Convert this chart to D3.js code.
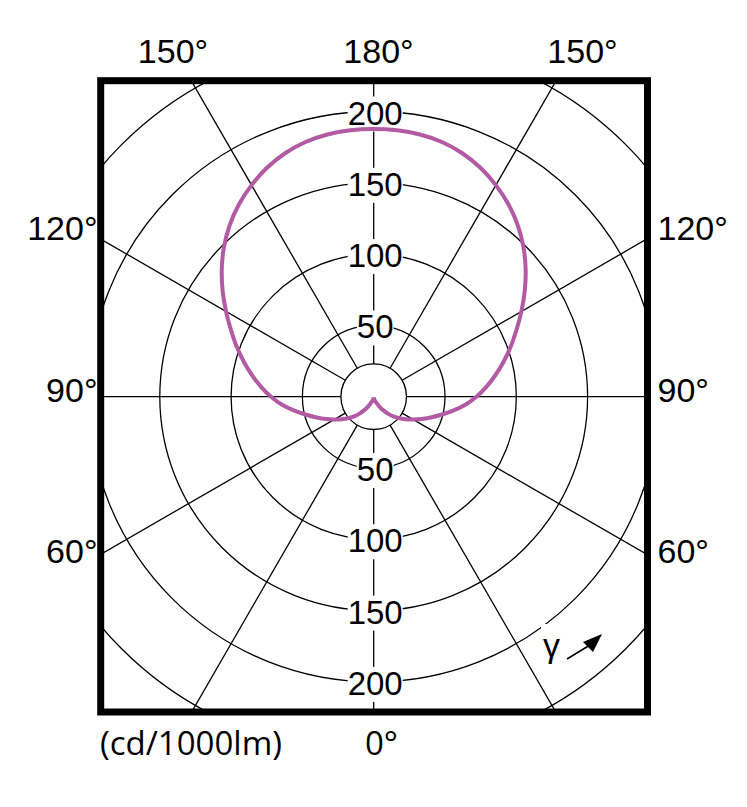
<!DOCTYPE html>
<html>
<head>
<meta charset="utf-8">
<script src="https://cdn.jsdelivr.net/npm/d3@7"></script>
<style>
  body { margin: 0; background: #fff; }
  svg { display: block; }
</style>
</head>
<body>
<div id="chart"></div>
<script>
// gamma angles (deg) and luminous intensity (cd/1000lm), one half-plane, mirrored
const gammaDeg = [0, 5, 10, 15, 20, 25, 30, 35, 40, 45, 50, 55, 60, 65, 70, 75, 80, 85, 90,
                  95, 100, 105, 110, 115, 120, 125, 130, 135, 140, 145, 150, 155, 160, 165, 170, 175, 180];
const intensity = [0.5, 0.8, 1.5, 2.5, 3.5, 5, 8, 11.5, 15.5, 19.5, 23.5, 27.5, 32, 37, 42.5, 49, 56.5, 64.5, 72,
                   79.3, 86.6, 94.2, 102.2, 110.4, 119.6, 129.3, 139.1, 148.5, 157.1, 164.7, 171.3, 177.1, 181.7, 184.9, 186.7, 187.5, 187.7];

const ringValues = [50, 100, 150, 200, 250];
const hubValue = 23;
const ringLabels = [50, 100, 150, 200];
const spokeDeg = [0, 30, 60, 90, 120, 150, 180, 210, 240, 270, 300, 330];
const topLabels = ["150°", "180°", "150°"];
const sideLabels = ["120°", "90°", "60°"];
const unitLabel = "(cd/1000lm)";
const bottomLabel = "0°";

const width = 747, height = 807;
const cx = 373.7, cy = 396.7;
const frame = { x0: 100.7, y0: 80.7, x1: 647.5, y1: 712 };

const svg = d3.select("#chart").append("svg")
    .attr("width", width)
    .attr("height", height);

svg.append("defs").append("clipPath")
    .attr("id", "inner")
    .append("rect")
    .attr("x", frame.x0).attr("y", frame.y0)
    .attr("width", frame.x1 - frame.x0).attr("height", frame.y1 - frame.y0);

const r = d3.scaleLinear().domain([0, 250]).range([0, 356.5]);
const toRad = d => d * Math.PI / 180;

const g = svg.append("g")
    .attr("clip-path", "url(#inner)")
    .append("g")
    .attr("transform", `translate(${cx},${cy})`);

// cercles
g.selectAll("circle.ring")
    .data([hubValue, ...ringValues])
    .enter().append("circle")
    .attr("class", "ring")
    .attr("r", d => r(d))
    .attr("fill", "none")
    .attr("stroke", "#000")
    .attr("stroke-width", 1.3);

// rayons
g.selectAll("line.spoke")
    .data(spokeDeg)
    .enter().append("line")
    .attr("class", "spoke")
    .attr("x1", d => r(hubValue) * Math.sin(toRad(d)))
    .attr("y1", d => -r(hubValue) * Math.cos(toRad(d)))
    .attr("x2", d => r(400) * Math.sin(toRad(d)))
    .attr("y2", d => -r(400) * Math.cos(toRad(d)))
    .attr("stroke", "#000")
    .attr("stroke-width", 1.3);

// labels on vertical axis, with white background
const valueLabels = [];
ringLabels.forEach(v => { valueLabels.push({ v, side: -1 }); valueLabels.push({ v, side: 1 }); });

const vl = g.selectAll("g.vlab")
    .data(valueLabels)
    .enter().append("g")
    .attr("class", "vlab")
    .attr("transform", d => `translate(1.5,${d.side * r(d.v) + 13})`);

vl.append("text")
    .attr("text-anchor", "middle")
    .style("font-family", "'Liberation Sans', Arial, sans-serif")
    .style("font-size", "33px")
    .text(d => d.v);

vl.each(function () {
    const t = d3.select(this).select("text");
    const b = t.node().getBBox();
    d3.select(this).insert("rect", "text")
        .attr("x", b.x).attr("y", b.y + 2)
        .attr("width", b.width).attr("height", b.height - 2)
        .attr("fill", "#fff");
});

// courbe photometrique
const pts = [];
gammaDeg.forEach((gm, i) => pts.push({ a: Math.PI - toRad(gm), v: intensity[i] }));
for (let i = gammaDeg.length - 2; i >= 0; i--) {
    pts.push({ a: -(Math.PI - toRad(gammaDeg[i])), v: intensity[i] });
}

const line = d3.lineRadial()
    .angle(d => d.a)
    .radius(d => r(d.v))
    .curve(d3.curveCatmullRom);

g.append("path")
    .datum(pts)
    .attr("d", line)
    .attr("fill", "none")
    .attr("stroke", "#b25aa3")
    .attr("stroke-width", 4)
    .attr("stroke-linejoin", "round");

// gamma + fleche
const gam = svg.append("g");
const gt = gam.append("text")
    .attr("x", 543).attr("y", 657)
    .style("font-family", "'Liberation Sans', Arial, sans-serif")
    .style("font-size", "34px")
    .text("γ");
const gb = gt.node().getBBox();
gam.insert("rect", "text")
    .attr("x", gb.x - 2).attr("y", gb.y - 2)
    .attr("width", gb.width + 4).attr("height", gb.height + 2)
    .attr("fill", "#fff");
gam.append("line")
    .attr("x1", 567).attr("y1", 659)
    .attr("x2", 590).attr("y2", 645)
    .attr("stroke", "#000")
    .attr("stroke-width", 1.5);
gam.append("path")
    .attr("d", "M602,634 L583,642 L593,652 Z")
    .attr("fill", "#000");

// cadre
svg.append("rect")
    .attr("x", frame.x0).attr("y", frame.y0)
    .attr("width", frame.x1 - frame.x0).attr("height", frame.y1 - frame.y0)
    .attr("fill", "none")
    .attr("stroke", "#000")
    .attr("stroke-width", 7);

// angle labels
const arial = "'Liberation Sans', Arial, sans-serif";
svg.selectAll("text.top")
    .data(topLabels)
    .enter().append("text")
    .attr("class", "top")
    .attr("x", (d, i) => [173, 378.5, 582.5][i])
    .attr("y", 63)
    .attr("text-anchor", "middle")
    .style("font-family", arial)
    .style("font-size", "34px")
    .text(d => d);

const sideY = [239.5, 402, 563];
svg.selectAll("text.left")
    .data(sideLabels)
    .enter().append("text")
    .attr("class", "left")
    .attr("x", 97.5)
    .attr("y", (d, i) => sideY[i])
    .attr("text-anchor", "end")
    .style("font-family", arial)
    .style("font-size", "34px")
    .text(d => d);

svg.selectAll("text.right")
    .data(sideLabels)
    .enter().append("text")
    .attr("class", "right")
    .attr("x", 657.5)
    .attr("y", (d, i) => sideY[i])
    .attr("text-anchor", "start")
    .style("font-family", arial)
    .style("font-size", "34px")
    .text(d => d);

svg.append("text")
    .attr("x", 100).attr("y", 755)
    .style("font-family", "'Open Sans', sans-serif")
    .style("font-size", "33px")
    .text(unitLabel);

svg.append("text")
    .attr("x", 365).attr("y", 755)
    .style("font-family", "'Open Sans', sans-serif")
    .style("font-size", "33px")
    .text(bottomLabel);
</script>
</body>
</html>
